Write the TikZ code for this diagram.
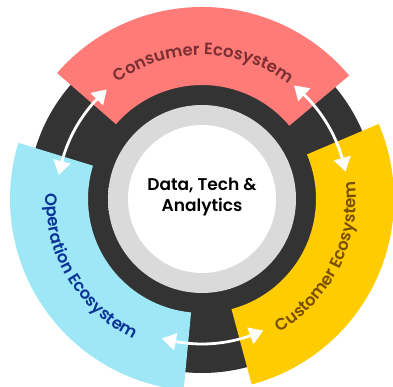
\documentclass[tikz,border=0pt]{standalone}
\usepackage{fontspec}
\setmainfont{Poppins}[BoldFont={Poppins SemiBold}]
\usetikzlibrary{decorations.text,arrows.meta,bending}
\definecolor{ringdark}{HTML}{333333}
\definecolor{consred}{HTML}{FF7B77}
\definecolor{opblue}{HTML}{9DE7F6}
\definecolor{custyellow}{HTML}{FFCC00}
\definecolor{constext}{HTML}{7A2F33}
\definecolor{optext}{HTML}{0A3596}
\definecolor{custtext}{HTML}{7A5000}
\definecolor{gA}{HTML}{ADADAD}
\definecolor{gB}{HTML}{CACACA}
\definecolor{gC}{HTML}{DADADA}
\pgfdeclareradialshading{ringshade}{\pgfpoint{0bp}{0bp}}{color(0bp)=(gC); color(39.4bp)=(gC); color(44bp)=(gB); color(50bp)=(gA)}
\newcommand\bandfont{\bfseries\fontsize{16.5}{16.5}\selectfont}
\begin{document}
\begin{tikzpicture}[x=1pt,y=1pt,
  bandtext/.style={decorate, decoration={text along path, text align=center, text color=#1}},
  flow/.style={draw=white, line width=2.8pt, {Triangle[length=14pt,width=17pt,bend]}-{Triangle[length=14pt,width=17pt,bend]}}
]
\useasboundingbox (0,0) rectangle (393,387);
\coordinate (C) at (202,188);
% dark disc
\fill[ringdark] (C) circle[radius=174];
% bands
\fill[consred] ([shift={(40:114)}]C) arc[start angle=40,end angle=139,radius=114]
  -- ([shift={(139:192)}]C) arc[start angle=139,end angle=40,radius=192] -- cycle;
\fill[opblue] ([shift={(163:114)}]C) arc[start angle=163,end angle=264.5,radius=114]
  -- ([shift={(264.5:192)}]C) arc[start angle=264.5,end angle=163,radius=192] -- cycle;
\fill[custyellow] ([shift={(-75:114)}]C) arc[start angle=-75,end angle=23,radius=114]
  -- ([shift={(23:192)}]C) arc[start angle=23,end angle=-75,radius=192] -- cycle;
% core rings
\shade[shading=ringshade] (C) circle[radius=94];
\fill[white] (C) circle[radius=74];
\node[font=\bfseries\fontsize{17}{21}\selectfont, align=center] (core) at ([yshift=2]C) {Data, Tech \&\\Analytics};
% arrows
\coordinate (la) at ([shift={(131:145)}]C);
\coordinate (ra) at ([shift={(51:146)}]C);
\coordinate (ba) at ([shift={(254:145)}]C);
\draw[flow] (la) arc[start angle=131,end angle=170.5,radius=145];
\draw[flow] (ra) arc[start angle=51,end angle=10.8,radius=146];
\draw[flow] (ba) arc[start angle=254,end angle=295,radius=145];
% band labels
\path[bandtext=constext, decoration={text={|\bandfont|Consumer Ecosystem}}]
  ([shift={(139:144)}]C) arc[start angle=139,end angle=40,radius=144];
\path[bandtext=optext, decoration={text={|\bandfont|Operation Ecosystem}}]
  ([shift={(163:156)}]C) arc[start angle=163,end angle=259,radius=156];
\path[bandtext=custtext, decoration={text={|\bandfont|Customer Ecosystem}}]
  ([shift={(-79:154)}]C) arc[start angle=-79,end angle=26,radius=154];
\end{tikzpicture}
\end{document}
